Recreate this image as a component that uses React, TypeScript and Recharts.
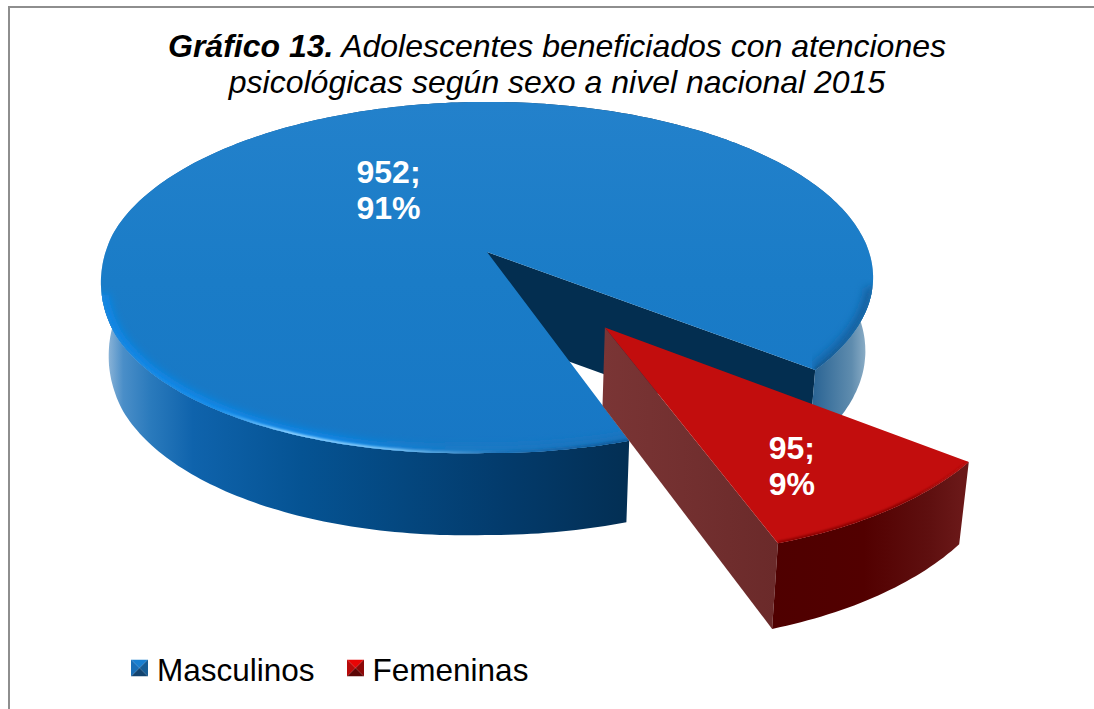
import { PieChart, Pie, Legend } from "recharts";

const categories = ["Masculinos", "Femeninas"];
const counts = [952, 95];

const data = categories.map((name, i) => ({ name, value: counts[i] }));

// perspective of the tilted disc
const TILT = 0.145;
const SQUASH = 0.45;
const DRAW_IN = 0.98;
const LEFT_SAG = 0.026;
const FONT = '"Liberation Sans", Arial, sans-serif';

const looks: Record<string, any> = {
  Masculinos: {
    explode: 0,
    labelAt: 0.474,
    labelTurn: 0,
    labelLift: -6,
    sideExtra: 8,
    top: "url(#blueTop)",
    wall: "url(#blueWall)",
    side: "#032e50",
    glow: "url(#blueGlow)",
    rim: "url(#blueRim)",
  },
  Femeninas: {
    explode: 0.505,
    labelAt: 0.765,
    labelTurn: -5,
    labelLift: -12,
    sideExtra: 2,
    top: "#c20d0d",
    wall: "url(#redWall)",
    side: "url(#redSide)",
    glow: "none",
    rim: "url(#redRim)",
  },
};

function project(cx: number, cy: number, rx: number, u: number, v: number) {
  const w = 1 - TILT * v;
  const x = cx + (rx * u) / w;
  // the near left side hangs a little lower than the rest
  const near = Math.min(1, Math.max(0, (v + 0.1) / 0.5));
  const y = cy + (rx * SQUASH * v) / w + LEFT_SAG * near * Math.max(0, cx - x);
  return { x, y, v };
}

function drop(cx: number, p: { x: number; y: number; v: number }, extra = 0) {
  return { x: cx + (p.x - cx) * DRAW_IN, y: p.y + 72 + 10 * p.v + extra, v: p.v };
}

function line(points: { x: number; y: number }[], close = false) {
  const d = points
    .map((p, i) => `${i === 0 ? "M" : "L"}${p.x.toFixed(1)} ${p.y.toFixed(1)}`)
    .join(" ");
  return close ? d + " Z" : d;
}

// the part of the rim that faces the viewer, as separate runs
function frontRuns(rim: any[]) {
  const runs: any[][] = [];
  let run: any[] = [];
  rim.forEach((p) => {
    if (p.v > 0.2) {
      run.push(p);
    } else if (run.length) {
      runs.push(run);
      run = [];
    }
  });
  if (run.length) runs.push(run);
  return runs;
}

function Slice3D(props: any) {
  const { cx, cy, outerRadius, startAngle, endAngle, name, index } = props;
  const look = looks[name];
  const rad = Math.PI / 180;
  const mid = ((startAngle + endAngle) / 2) * rad;
  const ou = look.explode * Math.cos(mid);
  const ov = -look.explode * Math.sin(mid);

  const rim: any[] = [];
  const steps = Math.ceil(Math.abs(endAngle - startAngle));
  for (let i = 0; i <= steps; i++) {
    const a = (startAngle + ((endAngle - startAngle) * i) / steps) * rad;
    rim.push(project(cx, cy, outerRadius, ou + Math.cos(a), ov - Math.sin(a)));
  }
  const apex = project(cx, cy, outerRadius, ou, ov);
  const clipId = `face${index}`;
  const face = line([apex, ...rim], true);

  return (
    <g>
      <clipPath id={clipId}>
        <path d={face} />
      </clipPath>
      <path
        d={line([apex, rim[0], drop(cx, rim[0]), drop(cx, apex, look.sideExtra)], true)}
        fill={look.side}
      />
      <path
        d={line([...rim, ...rim.map((p) => drop(cx, p)).reverse()], true)}
        fill={look.wall}
      />
      <path d={face} fill={look.top} />
      {frontRuns(rim).map((run, i) => (
        <g key={i}>
          <g clipPath={`url(#${clipId})`}>
            <path
              d={line(run)}
              fill="none"
              stroke={look.glow}
              strokeWidth={14}
              filter="url(#softer)"
            />
            <path
              d={line(run)}
              fill="none"
              stroke={look.rim}
              strokeWidth={4}
              filter="url(#soft)"
            />
          </g>
        </g>
      ))}
    </g>
  );
}

function renderLabel(props: any) {
  const { cx, cy, outerRadius, midAngle, name, value, percent } = props;
  const look = looks[name];
  const rad = Math.PI / 180;
  const a = midAngle * rad;
  const t = (midAngle + look.labelTurn) * rad;
  const u = look.explode * Math.cos(a) + look.labelAt * Math.cos(t);
  const v = -look.explode * Math.sin(a) - look.labelAt * Math.sin(t);
  const p = project(cx, cy, outerRadius, u, v);
  return (
    <text
      x={p.x}
      y={p.y}
      textAnchor="middle"
      fill="#ffffff"
      fontFamily={FONT}
      fontWeight="bold"
      fontSize={32}
    >
      <tspan x={p.x} dy={look.labelLift}>{`${value};`}</tspan>
      <tspan x={p.x} dy={36}>{`${Math.round(percent * 100)}%`}</tspan>
    </text>
  );
}

function KeyIcon({ name }: { name: string }) {
  const c =
    name === "Masculinos"
      ? ["#1a7fd0", "#1a6fb8", "#175c94", "#12436f"]
      : ["#e80505", "#b80a0a", "#8c0808", "#5c0606"];
  return (
    <svg width={17} height={17} style={{ display: "block", marginRight: 1, transform: "translateY(-2.5px)" }}>
      <path d="M0 0 L17 0 L8.5 8.5 Z" fill={c[0]} />
      <path d="M0 0 L8.5 8.5 L0 17 Z" fill={c[1]} />
      <path d="M17 0 L8.5 8.5 L17 17 Z" fill={c[2]} />
      <path d="M0 17 L8.5 8.5 L17 17 Z" fill={c[3]} />
    </svg>
  );
}

function renderLegend(props: any) {
  const items = props.payload ?? [];
  return (
    <div style={{ display: "flex", alignItems: "center", fontFamily: FONT, fontSize: 31.5, color: "#000" }}>
      {items.map((item: any) => (
        <div
          key={item.value}
          style={{ display: "flex", alignItems: "center", marginRight: 32 }}
        >
          <KeyIcon name={item.value} />
          <span style={{ marginLeft: 8, lineHeight: "36px" }}>{item.value}</span>
        </div>
      ))}
    </div>
  );
}

export default function App() {
  return (
    <div style={{ position: "absolute", left: 0, top: 0, width: 1094, height: 709, background: "#fff" }}>
      <PieChart width={1094} height={709} margin={{ top: 0, right: 0, bottom: 0, left: 0 }}>
        <defs>
          <linearGradient id="blueTop" gradientUnits="userSpaceOnUse" x1="0" y1="103" x2="0" y2="460">
            <stop offset="0" stopColor="#2381cb" />
            <stop offset="0.5" stopColor="#1a7cc7" />
            <stop offset="1" stopColor="#1777c5" />
          </linearGradient>
          <linearGradient id="blueWall" gradientUnits="userSpaceOnUse" x1="100" y1="0" x2="875" y2="0">
            <stop offset="0.005" stopColor="#9dbedb" />
            <stop offset="0.03" stopColor="#4a8ec8" />
            <stop offset="0.065" stopColor="#2a7abc" />
            <stop offset="0.12" stopColor="#0f63ac" />
            <stop offset="0.26" stopColor="#055393" />
            <stop offset="0.39" stopColor="#04477f" />
            <stop offset="0.52" stopColor="#033b6c" />
            <stop offset="0.68" stopColor="#032f54" />
            <stop offset="0.92" stopColor="#2a6494" />
            <stop offset="0.97" stopColor="#5f8cae" />
            <stop offset="0.99" stopColor="#8fb0c8" />
            <stop offset="1" stopColor="#d0dde8" />
          </linearGradient>
          <linearGradient id="blueRim" gradientUnits="userSpaceOnUse" x1="100" y1="0" x2="875" y2="0">
            <stop offset="0" stopColor="#1a86dc" />
            <stop offset="0.15" stopColor="#1a8ee8" />
            <stop offset="0.24" stopColor="#8fd2ff" />
            <stop offset="0.38" stopColor="#7cc4f5" />
            <stop offset="0.52" stopColor="#1a6fb5" />
            <stop offset="0.68" stopColor="#0c5a9a" />
            <stop offset="0.92" stopColor="#12598f" />
            <stop offset="1" stopColor="#1a6fb0" />
          </linearGradient>
          <linearGradient id="blueGlow" gradientUnits="userSpaceOnUse" x1="100" y1="0" x2="875" y2="0">
            <stop offset="0" stopColor="#0a88ea" />
            <stop offset="0.3" stopColor="#0a88ea" />
            <stop offset="0.45" stopColor="#1a7cc7" />
            <stop offset="0.7" stopColor="#1a70b8" />
            <stop offset="1" stopColor="#125f9e" />
          </linearGradient>
          <linearGradient id="redWall" gradientUnits="userSpaceOnUse" x1="768" y1="0" x2="960" y2="0">
            <stop offset="0" stopColor="#4f0000" />
            <stop offset="0.5" stopColor="#520000" />
            <stop offset="0.85" stopColor="#5f1010" />
            <stop offset="1" stopColor="#6a1818" />
          </linearGradient>
          <linearGradient id="redSide" gradientUnits="userSpaceOnUse" x1="603" y1="0" x2="775" y2="0">
            <stop offset="0" stopColor="#7a3535" />
            <stop offset="1" stopColor="#6b2a2a" />
          </linearGradient>
          <linearGradient id="redRim" gradientUnits="userSpaceOnUse" x1="775" y1="0" x2="965" y2="0">
            <stop offset="0" stopColor="#8a0404" />
            <stop offset="0.7" stopColor="#8a0404" />
            <stop offset="1" stopColor="#b81010" />
          </linearGradient>
          <filter id="soft" x="-5%" y="-5%" width="110%" height="110%">
            <feGaussianBlur stdDeviation="1" />
          </filter>
          <filter id="softer" x="-5%" y="-10%" width="110%" height="120%">
            <feGaussianBlur stdDeviation="4" />
          </filter>
        </defs>
        <path d="M9 709 L9 7 L1094 7" fill="none" stroke="#8e8e8e" strokeWidth={2} />
        <text textAnchor="middle" fontFamily={FONT} fontStyle="italic" fontSize={32} fill="#000">
          <tspan x={557} y={57} fontWeight="bold">Gráfico 13.</tspan>
          <tspan> Adolescentes beneficiados con atenciones</tspan>
          <tspan x={557} y={93}>psicológicas según sexo a nivel nacional 2015</tspan>
        </text>
        <Pie
          data={data}
          dataKey="value"
          nameKey="name"
          cx={487}
          cy={252}
          outerRadius={382}
          startAngle={-38.6}
          endAngle={321.4}
          stroke="none"
          shape={Slice3D}
          label={renderLabel}
          labelLine={false}
          isAnimationActive={false}
        />
        <Legend
          content={renderLegend}
          itemSorter={null}
          wrapperStyle={{ left: 131, top: 652, width: 600, bottom: "auto" }}
        />
      </PieChart>
    </div>
  );
}
